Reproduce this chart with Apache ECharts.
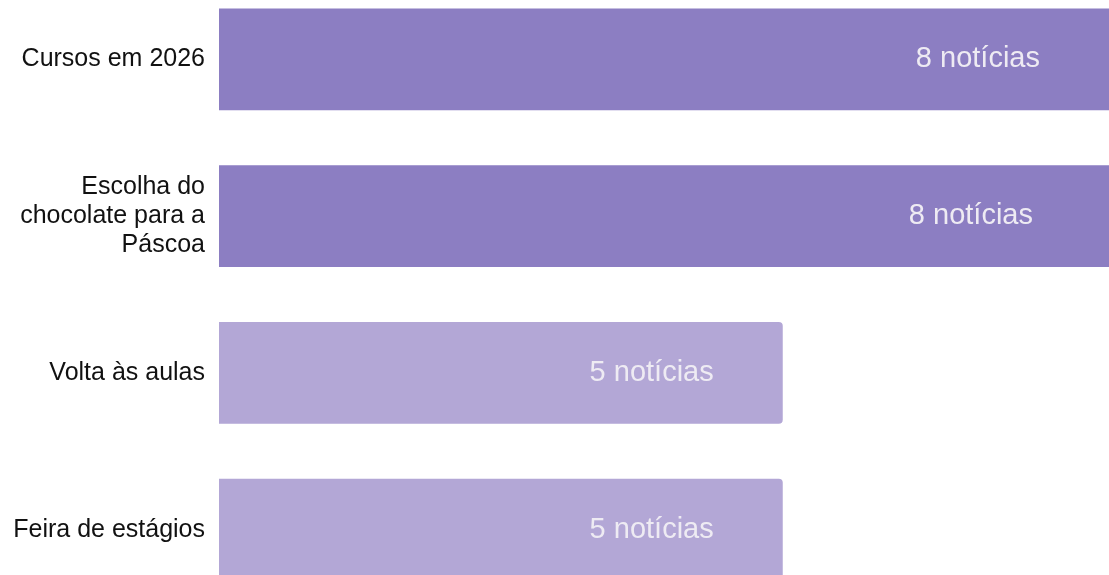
<!DOCTYPE html>
<html>
<head>
<meta charset="utf-8">
<script src="https://cdn.jsdelivr.net/npm/echarts@6/dist/echarts.min.js"></script>
<style>
  html, body { margin: 0; padding: 0; background: #fff; overflow: hidden; width: 1109px; height: 575px; }
  #chart { position: absolute; left: 0; top: -19px; width: 1121px; height: 627px; }
</style>
</head>
<body>
<div id="chart"></div>
<script>
var categories = ['Cursos em 2026', 'Escolha do\nchocolate para a\nPáscoa', 'Volta às aulas', 'Feira de estágios'];
var values = [8, 8, 5, 5];
var valueLabels = ['8 notícias', '8 notícias', '5 notícias', '5 notícias'];

var chart = echarts.init(document.getElementById('chart'));
var font = "'Liberation Sans', Arial, sans-serif";

var barData = values.map(function (v, i) {
    var strong = v >= 8;
    return {
        value: v,
        itemStyle: {
            color: strong ? '#8c7ec2' : '#b3a7d6',
            borderRadius: [0, 4, 4, 0]
        },
        label: {
            offset: [i === 0 ? -12 : (i === 1 ? -19 : 0), 0]
        }
    };
});

var option = {
    animation: false,
    grid: {
        left: 219,
        right: 0,
        top: 0,
        bottom: 0,
        containLabel: false
    },
    xAxis: {
        type: 'value',
        min: 0,
        max: 8,
        show: false
    },
    yAxis: {
        type: 'category',
        inverse: true,
        data: categories,
        axisLine: { show: false },
        axisTick: { show: false },
        axisLabel: {
            margin: 14,
            color: '#111111',
            fontFamily: font,
            fontSize: 25,
            lineHeight: 29,
            align: 'right'
        }
    },
    series: [{
        type: 'bar',
        barWidth: '65%',
        data: barData,
        label: {
            show: true,
            position: 'insideRight',
            distance: 69,
            color: '#eeebf3',
            fontFamily: font,
            fontSize: 29,
            formatter: function (p) {
                return valueLabels[p.dataIndex];
            }
        }
    }]
};

chart.setOption(option);
</script>
</body>
</html>
